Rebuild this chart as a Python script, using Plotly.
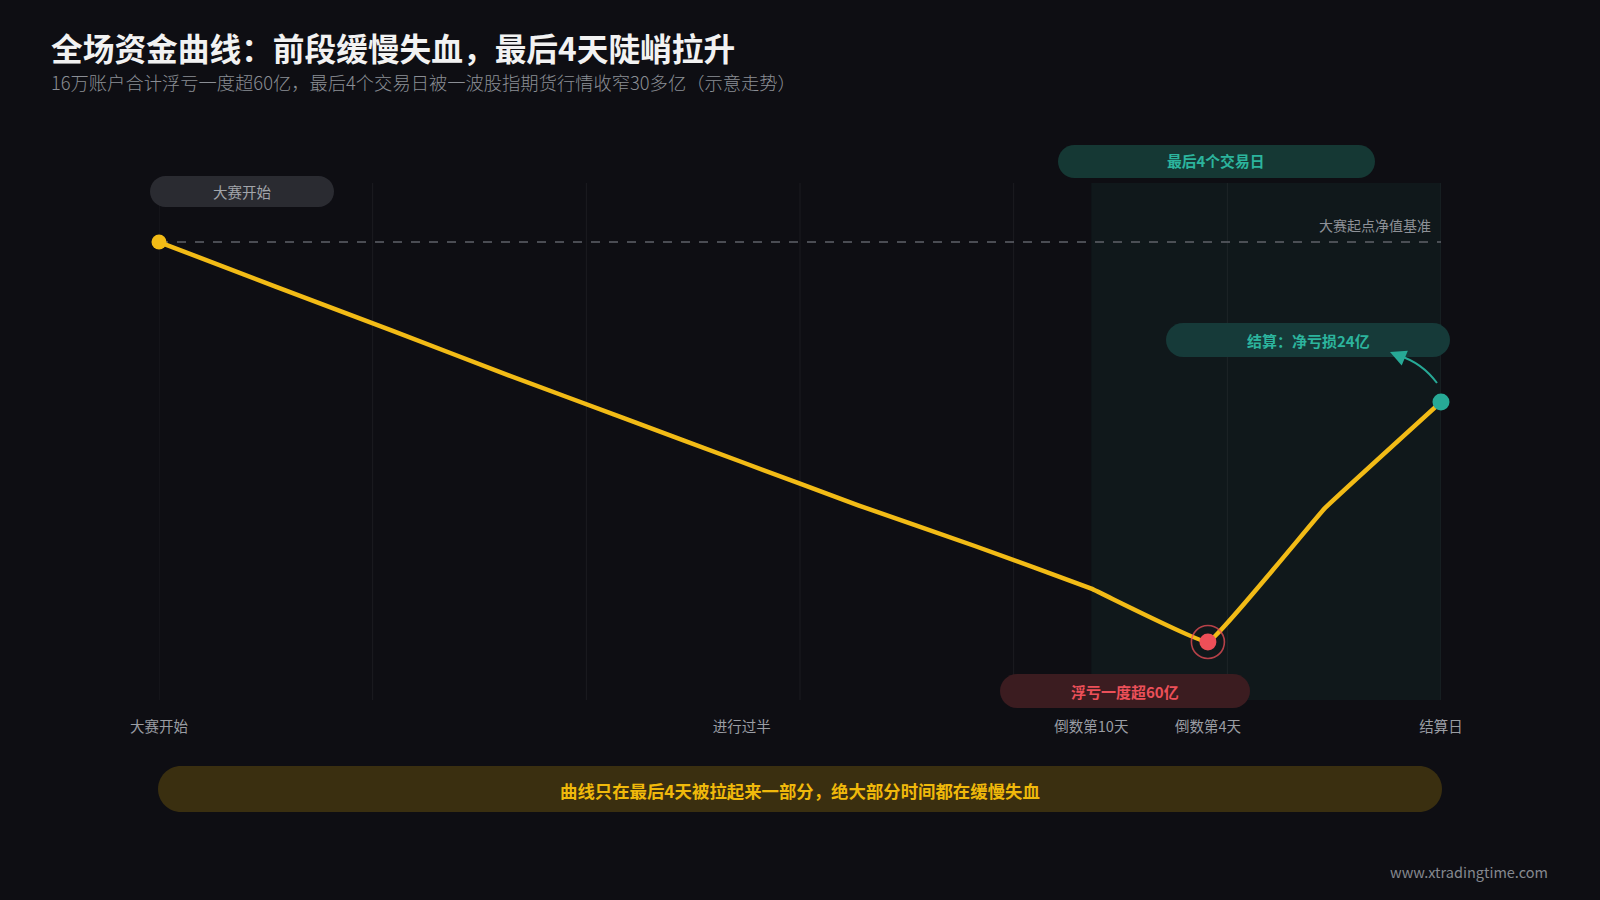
import plotly.graph_objects as go

# ---------------- data ----------------
days = list(range(12))
equity = [0, -6.7, -13.3, -20, -26.5, -33, -39.5, -45.6, -52, -60, -40, -24]
tick_pos = [0, 5, 8, 9, 11]
tick_text = ["大赛开始", "进行过半", "倒数第10天", "倒数第4天", "结算日"]
last4_start = 8
baseline = 0

title = "全场资金曲线：前段缓慢失血，最后4天陡峭拉升"
subtitle = "16万账户合计浮亏一度超60亿，最后4个交易日被一波股指期货行情收窄30多亿（示意走势）"
footer = "www.xtradingtime.com"

# ---------------- layout geometry ----------------
W, H = 1600, 900
L, R, T, B = 159, 1441, 183, 700
FONT = "Noto Sans CJK SC"
BG = "#0e0e13"
YELLOW = "#f2bb16"
TEAL = "#27a996"
RED = "#ee4f58"


def pxp(x):
    return (x - L) / (R - L)


def pyp(y):
    return (B - y) / (B - T)


def pill(x0, y0, x1, y1, fill):
    r = (y1 - y0) / 2
    k = 0.5523 * r
    pts = [
        ("M", [(x0 + r, y0)]),
        ("L", [(x1 - r, y0)]),
        ("C", [(x1 - r + k, y0), (x1, y0 + r - k), (x1, y0 + r)]),
        ("C", [(x1, y0 + r + k), (x1 - r + k, y1), (x1 - r, y1)]),
        ("L", [(x0 + r, y1)]),
        ("C", [(x0 + r - k, y1), (x0, y0 + r + k), (x0, y0 + r)]),
        ("C", [(x0, y0 + r - k), (x0 + r - k, y0), (x0 + r, y0)]),
    ]
    path = ""
    for cmd, ps in pts:
        path += cmd + " " + " ".join(f"{pxp(a):.5f},{pyp(b):.5f}" for a, b in ps) + " "
    path += "Z"
    return dict(type="path", xref="paper", yref="paper", path=path,
                fillcolor=fill, line=dict(width=0), layer="above")


fig = go.Figure()

fig.add_trace(go.Scatter(
    x=days, y=equity, mode="lines",
    line=dict(color=YELLOW, width=4.5, shape="spline", smoothing=0.2),
    cliponaxis=False, hoverinfo="skip"))

# start point
fig.add_trace(go.Scatter(x=[days[0]], y=[equity[0]], mode="markers",
                         marker=dict(color=YELLOW, size=15), cliponaxis=False))
# min point with ring
imin = equity.index(min(equity))
fig.add_trace(go.Scatter(x=[days[imin]], y=[equity[imin]], mode="markers",
                         marker=dict(color="rgba(0,0,0,0)", size=33,
                                     line=dict(color="rgba(238,79,88,0.75)", width=1.6)),
                         cliponaxis=False))
fig.add_trace(go.Scatter(x=[days[imin]], y=[equity[imin]], mode="markers",
                         marker=dict(color=RED, size=17), cliponaxis=False))
# end point
fig.add_trace(go.Scatter(x=[days[-1]], y=[equity[-1]], mode="markers",
                         marker=dict(color=TEAL, size=17), cliponaxis=False))

shapes = []
# shaded last-4-days region
shapes.append(dict(type="rect", xref="x", yref="paper", x0=last4_start, x1=days[-1],
                   y0=0, y1=1, fillcolor="rgba(40,150,140,0.07)", line=dict(width=0),
                   layer="below"))
# vertical grid lines
for k in range(7):
    xv = days[-1] * k / 6
    shapes.append(dict(type="line", xref="x", yref="paper", x0=xv, x1=xv, y0=0, y1=1,
                       line=dict(color="rgba(255,255,255,0.06)", width=1), layer="below"))
# baseline
shapes.append(dict(type="line", xref="x", yref="y", x0=days[0], x1=days[-1],
                   y0=baseline, y1=baseline,
                   line=dict(color="#5f626a", width=1.5, dash="dash"), layer="below"))
# pills
shapes.append(pill(150, 176, 334, 207, "#2a2b31"))
shapes.append(pill(1058, 145, 1375, 178, "#153834"))
shapes.append(pill(1166, 323, 1450, 357, "#163a39"))
shapes.append(pill(1000, 674, 1250, 708, "#3b1c20"))
shapes.append(pill(158, 766, 1442, 812, "#3a2f10"))

# curved arrow body toward the settlement label
shapes.append(dict(type="path", xref="paper", yref="paper",
                   path=(f"M {pxp(1437):.5f},{pyp(383):.5f} "
                         f"Q {pxp(1422):.5f},{pyp(363):.5f} {pxp(1400):.5f},{pyp(356):.5f}"),
                   line=dict(color=TEAL, width=2), layer="above"))

annotations = []


def txt(text, x, y, size, color, xanchor="center", weight=None, **kw):
    f = dict(family=FONT, size=size, color=color)
    if weight:
        f["weight"] = weight
    annotations.append(dict(text=text, x=pxp(x), y=pyp(y), xref="paper", yref="paper",
                            xanchor=xanchor, yanchor="middle", showarrow=False, font=f, **kw))


txt(title, 49, 47, 31.7, "#f2f2f2", xanchor="left", weight=700)
txt(subtitle, 49, 82, 18.3, "#8b8e95", xanchor="left", weight=300)
txt("大赛开始", 242, 191, 14.5, "#a2a5ab")
txt("最后4个交易日", 1216, 161, 14.8, "#2cb49d", weight=700)
txt("大赛起点净值基准", 1433, 225, 14, "#8e9197", xanchor="right")
txt("结算：净亏损24亿", 1308, 340, 15, "#2cb49d", weight=700)
txt("浮亏一度超60亿", 1125, 691, 15, "#ec5059", weight=700)
txt("曲线只在最后4天被拉起来一部分，绝大部分时间都在缓慢失血", 800, 790, 17.4, "#f0b90b", weight=700)
txt(footer, 1550, 871, 14.5, "#85888f", xanchor="right")

# arrow head
annotations.append(dict(x=pxp(1390), y=pyp(352), xref="paper", yref="paper", text="",
                        showarrow=True, ax=12, ay=5, axref="pixel", ayref="pixel",
                        arrowhead=2, arrowsize=1.6, arrowwidth=2, arrowcolor=TEAL))

fig.update_layout(
    width=W, height=H,
    paper_bgcolor=BG, plot_bgcolor=BG,
    margin=dict(l=L, r=W - R, t=T, b=H - B),
    showlegend=False,
    shapes=shapes, annotations=annotations,
    xaxis=dict(range=[days[0], days[-1]], showgrid=False, zeroline=False, showline=False,
               tickvals=tick_pos, ticktext=tick_text, ticks="outside", ticklen=14,
               tickcolor="rgba(0,0,0,0)", tickfont=dict(family=FONT, size=14.5, color="#9a9da3"),
               fixedrange=True),
    yaxis=dict(range=[-68.7, 8.85], showgrid=False, zeroline=False, showline=False,
               showticklabels=False, fixedrange=True),
    hovermode=False,
)

fig.write_html("out.html",
               config={"displayModeBar": False},
               post_script="document.body.style.margin='0';"
                           "document.body.style.background='#0e0e13';")
